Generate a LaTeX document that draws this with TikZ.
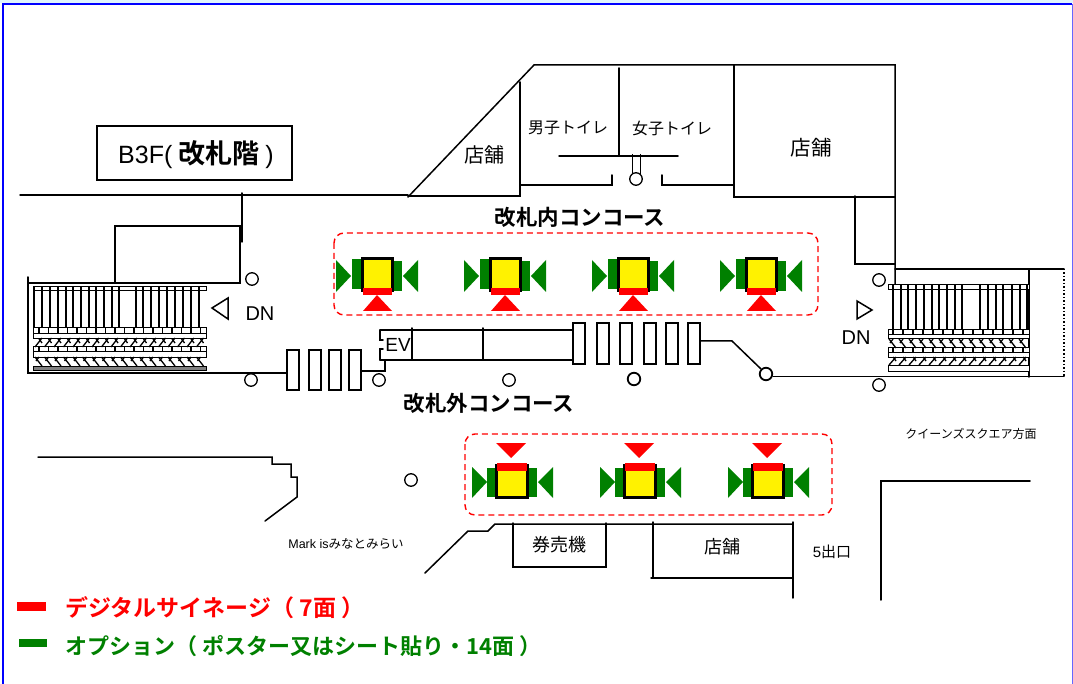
\documentclass[tikz,border=0pt]{standalone}
\usepackage{fontspec}
\setmainfont{Liberation Sans}
\newfontfamily\cjk[BoldFont={Noto Sans CJK JP Bold}]{Noto Sans CJK JP}
\definecolor{optgreen}{RGB}{0,128,0}
\definecolor{signred}{RGB}{255,0,0}
\begin{document}
\begin{tikzpicture}[x=1pt,y=-1pt,
    wall/.style={line width=1.5pt,line cap=round},
    thin wall/.style={line width=1pt},
    bar/.style={line width=1.3pt},
    post/.style={circle,draw,line width=1.3pt,fill=white,inner sep=0pt,minimum size=12.5pt},
    gate/.style={rectangle,draw,line width=1.3pt,fill=white,inner sep=0pt,minimum width=12pt},
    zone/.style={draw=signred,line width=1.4pt,dash pattern=on 6pt off 4pt,rounded corners=10pt},
    label/.style={inner sep=0pt,font=\cjk},
    title/.style={inner sep=0pt,font=\cjk\bfseries\fontsize{21.5}{22}\selectfont}]

  \useasboundingbox (0, 0) rectangle (1073, 684);
  \fill[cyan!12] (0, 0) rectangle (1073, 3);
  \draw[blue, line width=2pt] (3, 684) to (3, 4) to (1072, 4);
  \draw[blue!60, line width=1pt] (1072.5, 4) to (1072.5, 684);

  \draw[wall] (20, 195) to (408, 195);
  \draw[wall] (242, 193) to (242, 242);
  \draw[wall] (28, 277) to (28, 373) to (287, 373);
  \draw[wall] (28, 283) to (240, 283) to (240, 226) to (115, 226) to (115, 283);

  \draw[wall] (408, 197) to (534, 65) to (895, 65) to (895, 285);
  \draw[wall] (408, 196) to (520, 196) to (520, 82);
  \draw[wall] (520, 185) to (612, 185) to (612, 175);
  \draw[wall] (662, 175) to (662, 185) to (733, 185);
  \draw[wall] (734, 65) to (734, 197) to (895, 197);
  \draw[wall] (619, 68) to (619, 156);
  \draw[wall] (559, 156) to (678, 156);
  \draw[thin wall] (632, 154) to (632, 175);
  \draw[thin wall] (640, 154) to (640, 175);
  \draw[wall] (855, 196) to (855, 264) to (895, 264);
  \draw[wall] (895, 269) to (1064, 269);
  \draw[wall] (1029, 269) to (1029, 377);
  \draw[line width=1.5pt, dotted] (1064, 269) to (1064, 377);

  \draw[wall] (38, 457) to (272, 457) to (272, 464) to (291, 464) to (291, 477)
      to (297, 477) to (297, 497) to (265, 521);
  \draw[wall] (425, 573) to (468, 531) to (488, 531) to (495, 524) to (793, 524);
  \draw[wall] (513, 523) to (513, 567) to (606, 567) to (606, 523);
  \draw[wall] (653, 522) to (653, 578);
  \draw[wall] (651, 578) to (793, 578);
  \draw[wall] (793, 522) to (793, 598);
  \draw[wall] (881, 600) to (881, 481) to (1030, 481);

  \draw[wall] (380, 330) to (574, 330);
  \draw[wall] (380, 360) to (574, 360);
  \draw[wall] (412, 328) to (412, 360);
  \draw[wall] (483, 328) to (483, 360);
  \draw[wall] (380, 330) to (380, 340) to (383, 340);
  \draw[wall] (383, 349) to (380, 349) to (380, 360);
  \draw[wall] (361, 371) to (385, 371) to (385, 360);

  \foreach \x/\name in {293/a, 315/b, 335/c, 355/d}
    \node[gate, minimum height=40pt] (gate\name) at (\x, 370) {};
  \foreach \x/\name in {579/e, 603/f, 626/g, 650/h, 672/i, 694/j}
    \node[gate, minimum height=41pt] (gate\name) at (\x, 343.5) {};

  \foreach \x/\y/\name in {252/279/a, 251/380/b, 379/380/c, 509/380/d, 879/280/e, 879/385/f, 411/480/g}
    \node[post] (post\name) at (\x, \y) {};
  \node[post] (posth) at (636, 179) {};
  \node[post, line width=1.8pt] (posti) at (634, 379) {};
  \node[post, line width=1.8pt] (postj) at (766, 374) {};

  \draw[wall] (gatej.east |- 732, 341) to (732, 341) to (postj.north west);
  \draw[wall] (postj.east |- 0, 376.5) to (1064, 376.5);

  \foreach \y/\h in {287/4, 328/11, 347/10}
    \draw[thin wall, fill=white] (33, \y) rectangle (206, \y+\h);
  \draw[thin wall, fill=gray] (33, 366) rectangle (206, 370);
  \foreach \y/\h in {285/5, 330/9, 348/9, 365/6}
    \draw[thin wall, fill=white] (888, \y) rectangle (1029, \y+\h);

  \foreach \x in {34,42,50,58,66,73,81,89,96,104,112,119,136,143,151,159,167,175,183,191,199}
    \draw[bar] (\x, 287) to (\x, 328);
  \foreach \x in {893,901,908,916,924,932,939,947,955,962,980,988,996,1003,1012,1020,1027}
    \draw[bar] (\x, 285) to (\x, 330);

  \draw[thin wall] (33, 333.5) to (206, 333.5);
  \draw[thin wall] (33, 352) to (206, 352);
  \draw[thin wall] (888, 334.5) to (1029, 334.5);
  \draw[thin wall] (888, 352.5) to (1029, 352.5);
  \foreach \x in {38,47.5,...,204} {
    \draw[bar] (\x+1, 328) to (\x+1, 333);
    \draw[bar] (\x+1, 347) to (\x+1, 352);
    \draw[bar] (\x+4, 338) to (\x-3, 347);
    \draw[bar] (\x+1, 339) to (\x+4, 343);
    \draw[bar] (\x-3, 357) to (\x+4, 366);
    \draw[bar] (\x+1, 357) to (\x-2, 361);
  }
  \foreach \x in {892,902,...,1026} {
    \draw[bar] (\x+1, 330) to (\x+1, 334);
    \draw[bar] (\x+1, 348) to (\x+1, 352);
    \draw[bar] (\x-3, 339) to (\x+4, 348);
    \draw[bar] (\x+1, 339) to (\x-2, 343);
    \draw[bar] (\x+4, 357) to (\x-3, 365);
    \draw[bar] (\x+1, 357) to (\x+4, 361);
  }
  \draw[wall, fill=white] (212, 308) to (228, 298) to (228, 319) to cycle;
  \draw[wall, fill=white] (857, 301) to (872, 310) to (857, 319) to cycle;

  \draw[zone] (334, 233) rectangle (818, 315);
  \draw[zone] (465, 434) rectangle (832, 515);

  \foreach \x in {377,505,633,761} {
    \fill[optgreen] (\x-25, 259) rectangle (\x-16, 289);
    \fill[optgreen] (\x+17, 261) rectangle (\x+25, 291);
    \fill[optgreen] (\x-41, 260) to (\x-26, 276) to (\x-41, 292) to cycle;
    \fill[optgreen] (\x+41, 260) to (\x+26, 276) to (\x+41, 292) to cycle;
    \draw[line width=3pt, fill=yellow] (\x-15, 259) rectangle (\x+15, 291);
    \fill[signred] (\x-14, 288) rectangle (\x+15, 295);
    \fill[signred] (\x, 295) to (\x+15, 311) to (\x-14, 311) to cycle;
  }
  \foreach \x in {511,639,767} {
    \fill[optgreen] (\x-24, 468) rectangle (\x-16, 497);
    \fill[optgreen] (\x+17, 468) rectangle (\x+26, 497);
    \fill[optgreen] (\x-39, 467) to (\x-24, 482) to (\x-39, 498) to cycle;
    \fill[optgreen] (\x+42, 467) to (\x+27, 482) to (\x+42, 498) to cycle;
    \draw[line width=3pt, fill=yellow] (\x-15, 465) rectangle (\x+16, 497);
    \fill[signred] (\x-14, 463) rectangle (\x+16, 471);
    \fill[signred] (\x-15, 443) to (\x+15, 443) to (\x, 458) to cycle;
  }

  \node[draw, line width=1.5pt, minimum width=195pt, minimum height=54pt, inner sep=0pt] (floorbox) at (194.5, 153) {};
  \node[inner sep=0pt, anchor=west, font=\fontsize{25}{25}\selectfont] (floortext) at (118, 155) {B3F(\hspace{6pt}{\cjk\bfseries\fontsize{27}{27}\selectfont 改札階}\hspace{6pt})};

  \node[inner sep=0pt, font=\fontsize{19}{19}\selectfont] (ev) at (398, 345) {EV};
  \node[label, font=\cjk\fontsize{20}{20}\selectfont] (shopa) at (484, 155) {店舗};
  \node[label, font=\cjk\fontsize{16}{16}\selectfont] (men) at (568, 128) {男子トイレ};
  \node[label, font=\cjk\fontsize{16}{16}\selectfont] (women) at (672, 128) {女子トイレ};
  \node[label, font=\cjk\fontsize{20.5}{21}\selectfont] (shopb) at (811, 148) {店舗};
  \node[title] (inside) at (580, 217) {改札内コンコース};
  \node[title] (outside) at (489, 403) {改札外コンコース};
  \node[inner sep=0pt, font=\fontsize{20}{20}\selectfont] (dna) at (260, 314) {DN};
  \node[inner sep=0pt, font=\fontsize{20}{20}\selectfont] (dnb) at (856, 338) {DN};
  \node[label, font=\cjk\fontsize{12}{12}\selectfont] (queens) at (971, 434) {クイーンズスクエア方面};
  \node[inner sep=0pt, font=\fontsize{12.5}{13}\selectfont] (mark) at (346, 544) {Mark is{\cjk みなとみらい}};
  \node[label, font=\cjk\fontsize{18}{18}\selectfont] (ticket) at (559, 545) {券売機};
  \node[label, font=\cjk\fontsize{18}{18}\selectfont] (shopc) at (722, 547) {店舗};
  \node[inner sep=0pt, font=\fontsize{15}{15}\selectfont] (exit) at (832, 552) {5{\cjk 出口}};

  \fill[signred] (17, 602) rectangle (46, 611);
  \fill[optgreen] (19, 639) rectangle (47, 647);
  \node[title, anchor=west, text=signred, font=\cjk\bfseries\fontsize{23}{23}\selectfont] (digital) at (65, 608) {デジタルサイネージ（ 7面 ）};
  \node[title, anchor=west, text=optgreen, font=\cjk\bfseries\fontsize{22}{22}\selectfont] (option) at (65, 646) {オプション（ ポスター又はシート貼り・14面 ）};
\end{tikzpicture}
\end{document}
